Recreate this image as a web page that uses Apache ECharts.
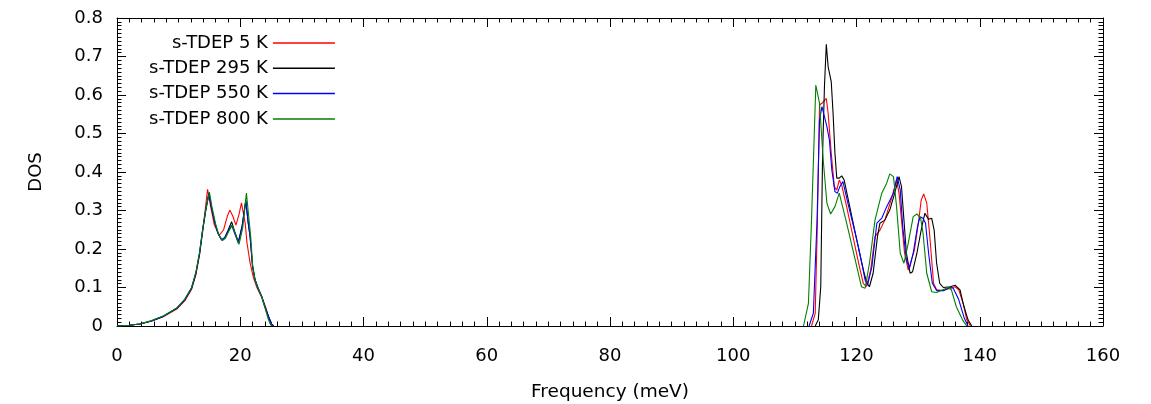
<!DOCTYPE html>
<html>
<head>
<meta charset="utf-8">
<style>
  html, body { margin: 0; padding: 0; background: #fff; }
  #chart { width: 1151px; height: 404px; }
</style>
<script src="https://cdn.jsdelivr.net/npm/echarts@6/dist/echarts.min.js"></script>
</head>
<body>
<div id="chart"></div>
<script>
// Phonon density of states from s-TDEP at four temperatures.
// Each curve: acoustic band (freq*Low / dos*Low) and optical band (freq*High / dos*High).

const seriesNames = ['s-TDEP 5 K', 's-TDEP 295 K', 's-TDEP 550 K', 's-TDEP 800 K'];
const seriesColors = ['#ff0000', '#000000', '#0000ff', '#008000'];

const xTicks = [0, 20, 40, 60, 80, 100, 120, 140, 160];
const yTicks = [0, 0.1, 0.2, 0.3, 0.4, 0.5, 0.6, 0.7, 0.8];

// 5 K
const freq5Low = [0, 2, 3.7, 5.6, 7.5, 9.7, 11.0, 12.1, 12.8, 13.4, 13.9, 14.3, 14.7, 15.2, 15.8, 16.6, 17.3, 17.9, 18.3, 18.8, 19.3, 19.8, 20.2, 20.8, 21.1, 21.6, 22.1, 22.7, 23.5, 24.1, 24.6, 25.1];
const dos5Low = [0, 0.002, 0.005, 0.013, 0.024, 0.044, 0.066, 0.095, 0.133, 0.185, 0.245, 0.30, 0.355, 0.31, 0.262, 0.236, 0.25, 0.285, 0.301, 0.285, 0.262, 0.29, 0.32, 0.267, 0.215, 0.164, 0.128, 0.10, 0.074, 0.05, 0.022, 0];
const freq5High = [112.7, 113.3, 113.6, 114.0, 114.5, 115.1, 115.4, 115.9, 116.4, 116.8, 117.2, 117.6, 118.4, 119.2, 120.0, 120.6, 121.1, 121.6, 122.3, 123.0, 123.8, 124.6, 125.6, 126.5, 126.9, 127.4, 127.8, 128.4, 128.7, 129.4, 130.1, 130.5, 130.9, 131.4, 131.9, 132.5, 133.0, 134.1, 135.2, 136.0, 136.6, 137.3, 137.9, 138.5];
const dos5High = [0, 0.033, 0.232, 0.574, 0.58, 0.591, 0.552, 0.449, 0.362, 0.353, 0.379, 0.366, 0.31, 0.25, 0.189, 0.145, 0.111, 0.102, 0.145, 0.232, 0.249, 0.275, 0.327, 0.379, 0.345, 0.258, 0.189, 0.145, 0.144, 0.197, 0.275, 0.327, 0.343, 0.319, 0.232, 0.111, 0.094, 0.092, 0.098, 0.102, 0.094, 0.059, 0.016, 0];

// 295 K
const freq295Low = [0, 2, 3.7, 5.6, 7.5, 9.7, 11.0, 12.1, 12.8, 13.4, 13.9, 14.4, 14.9, 15.3, 15.9, 16.4, 17.0, 17.5, 18.0, 18.6, 19.1, 19.7, 20.3, 20.9, 21.3, 21.6, 22.0, 22.4, 22.9, 23.5, 24.0, 24.6, 25.1, 25.4];
const dos295Low = [0, 0.002, 0.005, 0.013, 0.025, 0.046, 0.068, 0.098, 0.137, 0.189, 0.249, 0.30, 0.345, 0.31, 0.267, 0.24, 0.223, 0.23, 0.248, 0.271, 0.245, 0.219, 0.26, 0.327, 0.267, 0.232, 0.154, 0.12, 0.098, 0.076, 0.05, 0.024, 0.005, 0];
const freq295High = [113.3, 113.8, 114.2, 114.5, 114.8, 115.1, 115.4, 115.9, 116.2, 116.5, 116.8, 117.2, 117.6, 118.0, 118.9, 119.7, 120.5, 121.2, 121.7, 122.1, 122.7, 123.4, 123.8, 124.6, 125.4, 126.2, 126.9, 127.3, 127.7, 128.1, 128.7, 129.1, 129.8, 130.6, 131.1, 131.7, 132.2, 132.6, 133.0, 133.5, 134.1, 135.2, 136.0, 136.8, 137.3, 138.1, 138.7];
const dos295High = [0, 0.016, 0.102, 0.449, 0.622, 0.732, 0.673, 0.635, 0.552, 0.449, 0.384, 0.384, 0.39, 0.379, 0.31, 0.25, 0.189, 0.14, 0.111, 0.102, 0.137, 0.232, 0.267, 0.275, 0.301, 0.345, 0.388, 0.362, 0.275, 0.189, 0.137, 0.141, 0.189, 0.258, 0.293, 0.277, 0.28, 0.249, 0.163, 0.111, 0.10, 0.102, 0.106, 0.094, 0.059, 0.016, 0];

// 550 K
const freq550Low = [0, 2, 3.7, 5.6, 7.5, 9.7, 11.0, 12.1, 12.8, 13.4, 13.9, 14.4, 14.9, 15.3, 15.9, 16.4, 17.0, 17.5, 18.0, 18.6, 19.1, 19.7, 20.3, 20.9, 21.3, 21.6, 22.0, 22.4, 22.9, 23.5, 24.0, 24.6, 25.1, 25.4];
const dos550Low = [0, 0.002, 0.005, 0.013, 0.025, 0.046, 0.068, 0.098, 0.137, 0.189, 0.249, 0.30, 0.343, 0.31, 0.266, 0.24, 0.224, 0.23, 0.245, 0.262, 0.24, 0.215, 0.258, 0.325, 0.267, 0.232, 0.155, 0.12, 0.098, 0.076, 0.05, 0.024, 0.005, 0];
const freq550High = [112.3, 113.0, 113.6, 114.0, 114.4, 114.8, 115.2, 115.6, 116.0, 116.5, 116.9, 117.3, 117.8, 118.6, 119.5, 120.3, 120.9, 121.4, 121.8, 122.5, 123.3, 124.1, 124.9, 126.0, 126.6, 127.1, 127.5, 128.1, 128.6, 129.2, 129.9, 130.3, 130.8, 131.2, 131.7, 132.3, 133.0, 134.1, 135.2, 135.7, 136.6, 137.5, 138.1];
const dos550High = [0, 0.033, 0.275, 0.535, 0.57, 0.544, 0.518, 0.483, 0.405, 0.349, 0.345, 0.362, 0.375, 0.319, 0.26, 0.206, 0.16, 0.119, 0.106, 0.154, 0.267, 0.28, 0.31, 0.345, 0.388, 0.353, 0.258, 0.171, 0.15, 0.189, 0.258, 0.284, 0.28, 0.267, 0.189, 0.111, 0.092, 0.092, 0.10, 0.098, 0.068, 0.02, 0];

// 800 K
const freq800Low = [0, 2, 3.7, 5.6, 7.5, 9.7, 11.0, 12.1, 12.8, 13.4, 13.9, 14.4, 15.0, 15.4, 16.0, 16.5, 17.1, 17.6, 18.1, 18.7, 19.2, 19.8, 20.4, 21.0, 21.4, 21.7, 22.0, 22.4, 22.9, 23.5, 24.0, 24.5, 24.9, 25.2];
const dos800Low = [0, 0.002, 0.005, 0.014, 0.026, 0.047, 0.07, 0.1, 0.14, 0.192, 0.252, 0.303, 0.348, 0.31, 0.265, 0.238, 0.222, 0.228, 0.245, 0.262, 0.24, 0.212, 0.255, 0.345, 0.28, 0.232, 0.16, 0.12, 0.096, 0.074, 0.048, 0.02, 0.004, 0];
const freq800High = [111.4, 112.2, 112.7, 113.4, 114.0, 114.6, 115.2, 115.8, 116.5, 117.2, 118.4, 119.8, 120.8, 121.4, 122.1, 123.0, 124.1, 124.9, 125.4, 126.0, 126.5, 127.1, 127.7, 128.4, 129.2, 129.8, 130.4, 130.8, 131.4, 132.2, 133.0, 134.1, 134.9, 135.4, 136.2, 137.2, 137.9];
const dos800High = [0, 0.059, 0.275, 0.626, 0.578, 0.431, 0.319, 0.291, 0.31, 0.345, 0.267, 0.171, 0.102, 0.098, 0.163, 0.275, 0.345, 0.371, 0.395, 0.388, 0.31, 0.189, 0.163, 0.215, 0.284, 0.291, 0.28, 0.241, 0.137, 0.089, 0.087, 0.095, 0.10, 0.094, 0.05, 0.016, 0];

const bands = [
  [freq5Low, dos5Low, freq5High, dos5High],
  [freq295Low, dos295Low, freq295High, dos295High],
  [freq550Low, dos550Low, freq550High, dos550High],
  [freq800Low, dos800Low, freq800High, dos800High]
];

function zip(xs, ys) { return xs.map((x, i) => [x, ys[i]]); }

// Acoustic and optical bands joined with a gap between them.
function curve(b) {
  return zip(b[0], b[1]).concat([[60, '-']], zip(b[2], b[3]));
}

const FONT = 'DejaVu Sans';
const tickStyle = { show: true, inside: true, length: 9, lineStyle: { color: '#000', width: 1 } };
const minorStyle = { show: true, splitNumber: 10, length: 4.5, lineStyle: { color: '#000', width: 1 } };
const lineAxis = { show: true, onZero: false, lineStyle: { color: '#000', width: 1 } };

const xBase = { type: 'value', min: xTicks[0], max: xTicks[xTicks.length - 1], interval: 20,
  axisLine: lineAxis, axisTick: tickStyle, minorTick: minorStyle, splitLine: { show: false } };
const yBase = { type: 'value', min: yTicks[0], max: yTicks[yTicks.length - 1], interval: 0.1,
  axisLine: lineAxis, axisTick: tickStyle, minorTick: minorStyle, splitLine: { show: false } };

const chart = echarts.init(document.getElementById('chart'), null, { renderer: 'canvas' });
chart.setOption({
  animation: false,
  backgroundColor: '#fff',
  textStyle: { fontFamily: FONT },
  grid: { left: 117, right: 48, top: 18, bottom: 78, containLabel: false, outerBoundsMode: 'none' },
  legend: {
    orient: 'vertical', left: 144, top: 29, itemGap: 7.3,
    align: 'right', icon: 'rect', itemWidth: 62, itemHeight: 1.5,
    selectedMode: false,
    textStyle: { fontFamily: FONT, fontSize: 18, color: '#000' },
    data: seriesNames.map((n, i) => ({ name: n, itemStyle: { color: seriesColors[i] } }))
  },
  xAxis: [
    Object.assign({}, xBase, { position: 'bottom',
      axisLabel: { show: true, color: '#000', fontSize: 18, fontFamily: FONT, margin: 21 },
      name: 'Frequency (meV)', nameLocation: 'middle', nameGap: 57,
      nameTextStyle: { color: '#000', fontSize: 18.5, fontFamily: FONT } }),
    Object.assign({}, xBase, { position: 'top', axisLabel: { show: false } })
  ],
  yAxis: [
    Object.assign({}, yBase, { position: 'left',
      axisLabel: { show: true, color: '#000', fontSize: 18, fontFamily: FONT, margin: 14 },
      name: 'DOS', nameLocation: 'middle', nameGap: 72, nameRotate: 90,
      nameTextStyle: { color: '#000', fontSize: 18, fontFamily: FONT } }),
    Object.assign({}, yBase, { position: 'right', axisLabel: { show: false } })
  ],
  series: seriesNames.map((name, i) => ({
    name: name,
    type: 'line',
    xAxisIndex: 0, yAxisIndex: 0,
    data: curve(bands[i]),
    showSymbol: false,
    symbol: 'none',
    connectNulls: false,
    lineStyle: { color: seriesColors[i], width: 1.1 },
    itemStyle: { color: seriesColors[i] },
    z: 2 + i
  }))
});
</script>
</body>
</html>
